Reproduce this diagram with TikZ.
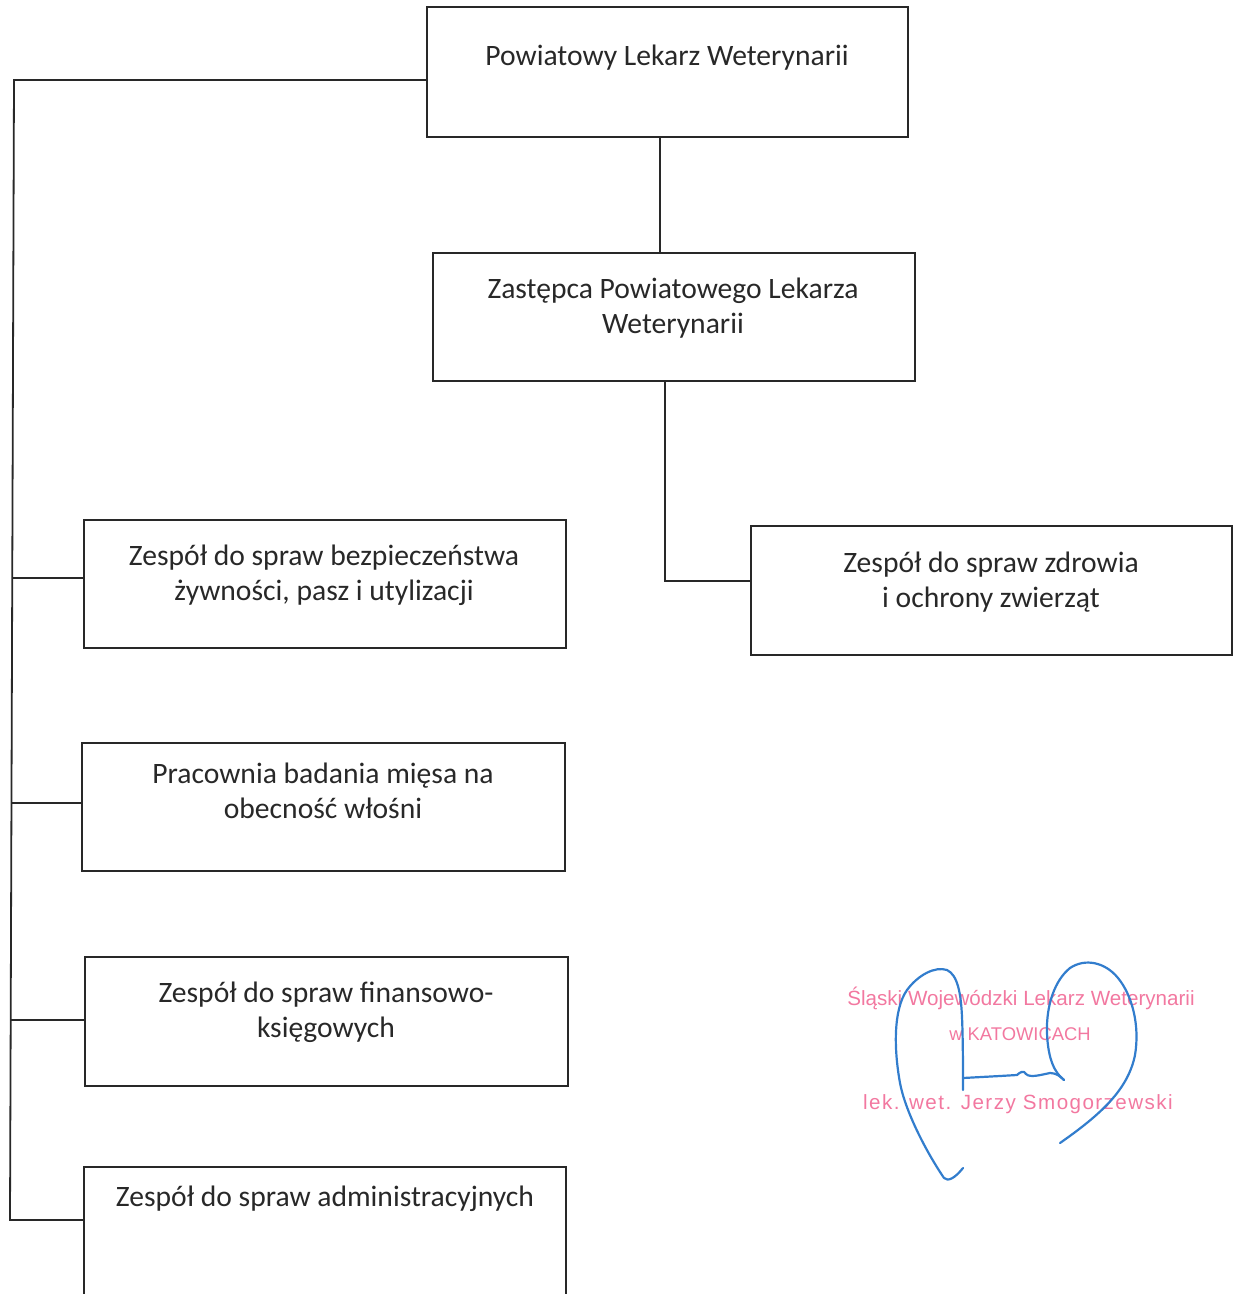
\documentclass[tikz,border=0pt]{standalone}
\usepackage{fontspec}
\setmainfont{Carlito}
\newfontfamily\stampfont{Liberation Sans}
\newfontfamily\stampfontsp{Liberation Sans}[LetterSpace=7]
\usetikzlibrary{fit}
\definecolor{ink}{RGB}{40,40,40}
\definecolor{stamppink}{RGB}{242,120,160}
\definecolor{sigblue}{RGB}{50,125,205}
\tikzset{
  box/.style={draw=ink, line width=1pt, inner sep=0pt, fill=none},
  lbl/.style={font=\fontsize{14.8}{17.5}\selectfont, text=ink, align=center, inner sep=0pt},
  conn/.style={draw=ink, line width=0.9pt},
  stamp/.style={text=stamppink, inner sep=0pt},
  sig/.style={draw=sigblue, line width=1.1pt, line cap=round, line join=round}
}
\begin{document}
\begin{tikzpicture}[x=0.5pt,y=-0.5pt]
\useasboundingbox (0,0) rectangle (1233,1294);
% boxes
\node[box, fit={(427,7) (908,137)}] (b1) {};
\node[box, fit={(433,253) (915,381)}] (b2) {};
\node[box, fit={(751,526) (1232,655)}] (b3) {};
\node[box, fit={(84,520) (566,648)}] (b4) {};
\node[box, fit={(82,743) (565,871)}] (b5) {};
\node[box, fit={(85,957) (568,1086)}] (b6) {};
\node[box, fit={(84,1167) (566,1320)}] (b7) {};
% texts
\node[lbl] (t1) at (667,58) {Powiatowy Lekarz Weterynarii};
\node[lbl] (t2) at (673,308) {Zastępca Powiatowego Lekarza\\Weterynarii};
\node[lbl] (t3) at (991,582) {Zespół do spraw zdrowia\\i ochrony zwierząt};
\node[lbl] (t4) at (324,575) {Zespół do spraw bezpieczeństwa\\żywności, pasz i utylizacji};
\node[lbl] (t5) at (323,791) {Pracownia badania mięsa na\\obecność włośni};
\node[lbl] (t6) at (326,1012) {Zespół do spraw finansowo-\\księgowych};
\node[lbl] (t7) at (325,1199) {Zespół do spraw administracyjnych};
% coordinates
\coordinate (v1) at (660,0);
\coordinate (v2) at (665,0);
\coordinate (h3) at (0,581);
\coordinate (hTop) at (0,80);
\coordinate (tTop) at (14,80);
\coordinate (tBot) at (10,1220);
\coordinate (h4) at (0,578);
\coordinate (h5) at (0,803);
\coordinate (h6) at (0,1020);
% connectors
\draw[conn] (b1.south -| v1) -- (b2.north -| v1);
\draw[conn] (b2.south -| v2) -- (h3 -| v2) -- (h3 -| b3.west);
\draw[conn] (hTop -| b1.west) -- (tTop) -- (tBot) -- (tBot -| b7.west);
\draw[conn] (h4 -| 12.8,0) -- (h4 -| b4.west);
\draw[conn] (h5 -| 12,0) -- (h5 -| b5.west);
\draw[conn] (h6 -| 11.2,0) -- (h6 -| b6.west);
% stamp
\node[stamp, font=\stampfont\fontsize{10.3}{12}\selectfont] (s1) at (1021,998) {Śląski Wojewódzki Lekarz Weterynarii};
\node[stamp, font=\stampfont\fontsize{9.2}{12}\selectfont] (s2) at (1020,1034) {w KATOWICACH};
\node[stamp, font=\stampfontsp\fontsize{10.3}{12}\selectfont] (s3) at (1018,1104) {lek. wet. Jerzy Smogorzewski};
% signature
\draw[sig] (963,1168) .. controls (955,1178) and (948,1182) .. (944,1178)
  .. controls (925,1150) and (905,1110) .. (900,1083)
  .. controls (894,1050) and (893,1010) .. (907,990)
  .. controls (918,975) and (935,966) .. (947,970)
  .. controls (958,975) and (961,995) .. (962,1017)
  .. controls (963,1040) and (963,1070) .. (963,1090);
\draw[sig] (963,1078) -- (1000,1076) -- (1017,1075)
  .. controls (1020,1072) and (1024,1070) .. (1026,1074)
  .. controls (1030,1078) and (1040,1075) .. (1050,1073)
  .. controls (1056,1073) and (1060,1076) .. (1064,1080);
\draw[sig] (1064,1080) .. controls (1055,1073) and (1048,1060) .. (1047,1033)
  .. controls (1046,1005) and (1055,980) .. (1070,968)
  .. controls (1085,958) and (1105,962) .. (1118,978)
  .. controls (1132,995) and (1140,1025) .. (1135,1055)
  .. controls (1128,1090) and (1100,1115) .. (1060,1143);
\end{tikzpicture}
\end{document}
